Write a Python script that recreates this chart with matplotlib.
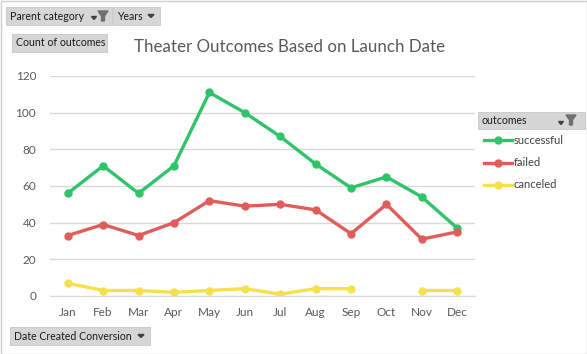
import numpy as np
import matplotlib
matplotlib.use("Agg")
from matplotlib import pyplot as plt
from matplotlib.patches import Rectangle, Polygon

plt.rcParams['font.family'] = ['Lato', 'DejaVu Sans']

months = ["Jan", "Feb", "Mar", "Apr", "May", "Jun", "Jul", "Aug", "Sep", "Oct", "Nov", "Dec"]
successful = [56, 71, 56, 71, 111, 100, 87, 72, 59, 65, 54, 37]
failed = [33, 39, 33, 40, 52, 49, 50, 47, 34, 50, 31, 35]
canceled = [7, 3, 3, 2, 3, 4, 1, 4, 4, np.nan, 3, 3]
series_names = ["successful", "failed", "canceled"]
colors = ["#2fc46a", "#e05d5a", "#f6e04b"]

W, H = 587, 354
fig = plt.figure(figsize=(W / 100, H / 100), dpi=100)
fig.patch.set_facecolor("white")

def fx(px):
    return px / W

def fy(py):
    return 1 - py / H

# outer border
fig.patches.append(Rectangle((fx(0.5), fy(353.5)), fx(586), 353 / H, transform=fig.transFigure,
                             fill=False, edgecolor="#d0d0d0", lw=1))

ax = fig.add_axes([fx(50), fy(296), fx(425), (296 - 76) / H])
x = np.arange(len(months))
for vals, name, c in zip([successful, failed, canceled], series_names, colors):
    ax.plot(x, vals, color=c, lw=2.4, marker="o", markersize=5, label=name,
            solid_capstyle="round")

ax.set_xlim(-0.5, 11.5)
ax.set_ylim(0, 120)
ax.set_yticks(range(0, 121, 20))
ax.set_xticks(x)
ax.set_xticklabels(months)
ax.grid(axis="y", color="#d9d9d9", lw=1)
ax.set_axisbelow(True)
for s in ["top", "right", "left"]:
    ax.spines[s].set_visible(False)
ax.spines["bottom"].set_color("#d9d9d9")
ax.tick_params(length=0, colors="#595959", labelsize=8.5)
ax.tick_params(axis="x", pad=8)
ax.tick_params(axis="y", pad=10)

fig.text(fx(290), fy(47), "Theater Outcomes Based on Launch Date", ha="center", va="center",
         fontsize=12.2, color="#595959")

def button(x0, y0, x1, y1, label, fs=7.6):
    fig.patches.append(Rectangle((fx(x0), fy(y1)), fx(x1 - x0), (y1 - y0) / H,
                                 transform=fig.transFigure, facecolor="#d6d6d6",
                                 edgecolor="#c8c8c8", lw=0.6))
    fig.text(fx(x0 + 4), fy((y0 + y1) / 2), label, ha="left", va="center",
             fontsize=fs, color="#1a1a1a")

def arrow(cx, cy, size=3):
    fig.patches.append(Polygon([(fx(cx - size), fy(cy - 1.5)), (fx(cx + size), fy(cy - 1.5)),
                                (fx(cx), fy(cy + 1.5))], closed=True,
                               transform=fig.transFigure, color="#404040"))

def funnel(cx, cy):
    fig.patches.append(Polygon([(fx(cx - 5), fy(cy - 5)), (fx(cx + 5), fy(cy - 5)),
                                (fx(cx + 1.5), fy(cy)), (fx(cx + 1.5), fy(cy + 5)),
                                (fx(cx - 1.5), fy(cy + 5)), (fx(cx - 1.5), fy(cy))],
                               closed=True, transform=fig.transFigure, color="#707070"))

button(6, 7, 112, 25, "Parent category")
arrow(94, 18, 2.5)
funnel(103, 16)
button(113, 7, 160, 25, "Years")
arrow(151, 16)
button(12, 34, 107, 52, "Count of outcomes")
button(10, 327, 150, 345, "Date Created Conversion")
arrow(141, 336)

# legend
button(478, 112, 585, 129, "outcomes")
arrow(561, 123, 2.5)
funnel(571, 120)
for i, (name, c) in enumerate(zip(series_names, colors)):
    ly = 140 + i * 22.5
    fig.lines.append(plt.Line2D([fx(484), fx(512)], [fy(ly), fy(ly)], transform=fig.transFigure,
                                color=c, lw=2.4))
    fig.lines.append(plt.Line2D([fx(498)], [fy(ly)], transform=fig.transFigure,
                                color=c, marker="o", markersize=5))
    fig.text(fx(514), fy(ly), name, ha="left", va="center", fontsize=8, color="#404040")

fig.savefig("out.png", dpi=100, facecolor="white")
